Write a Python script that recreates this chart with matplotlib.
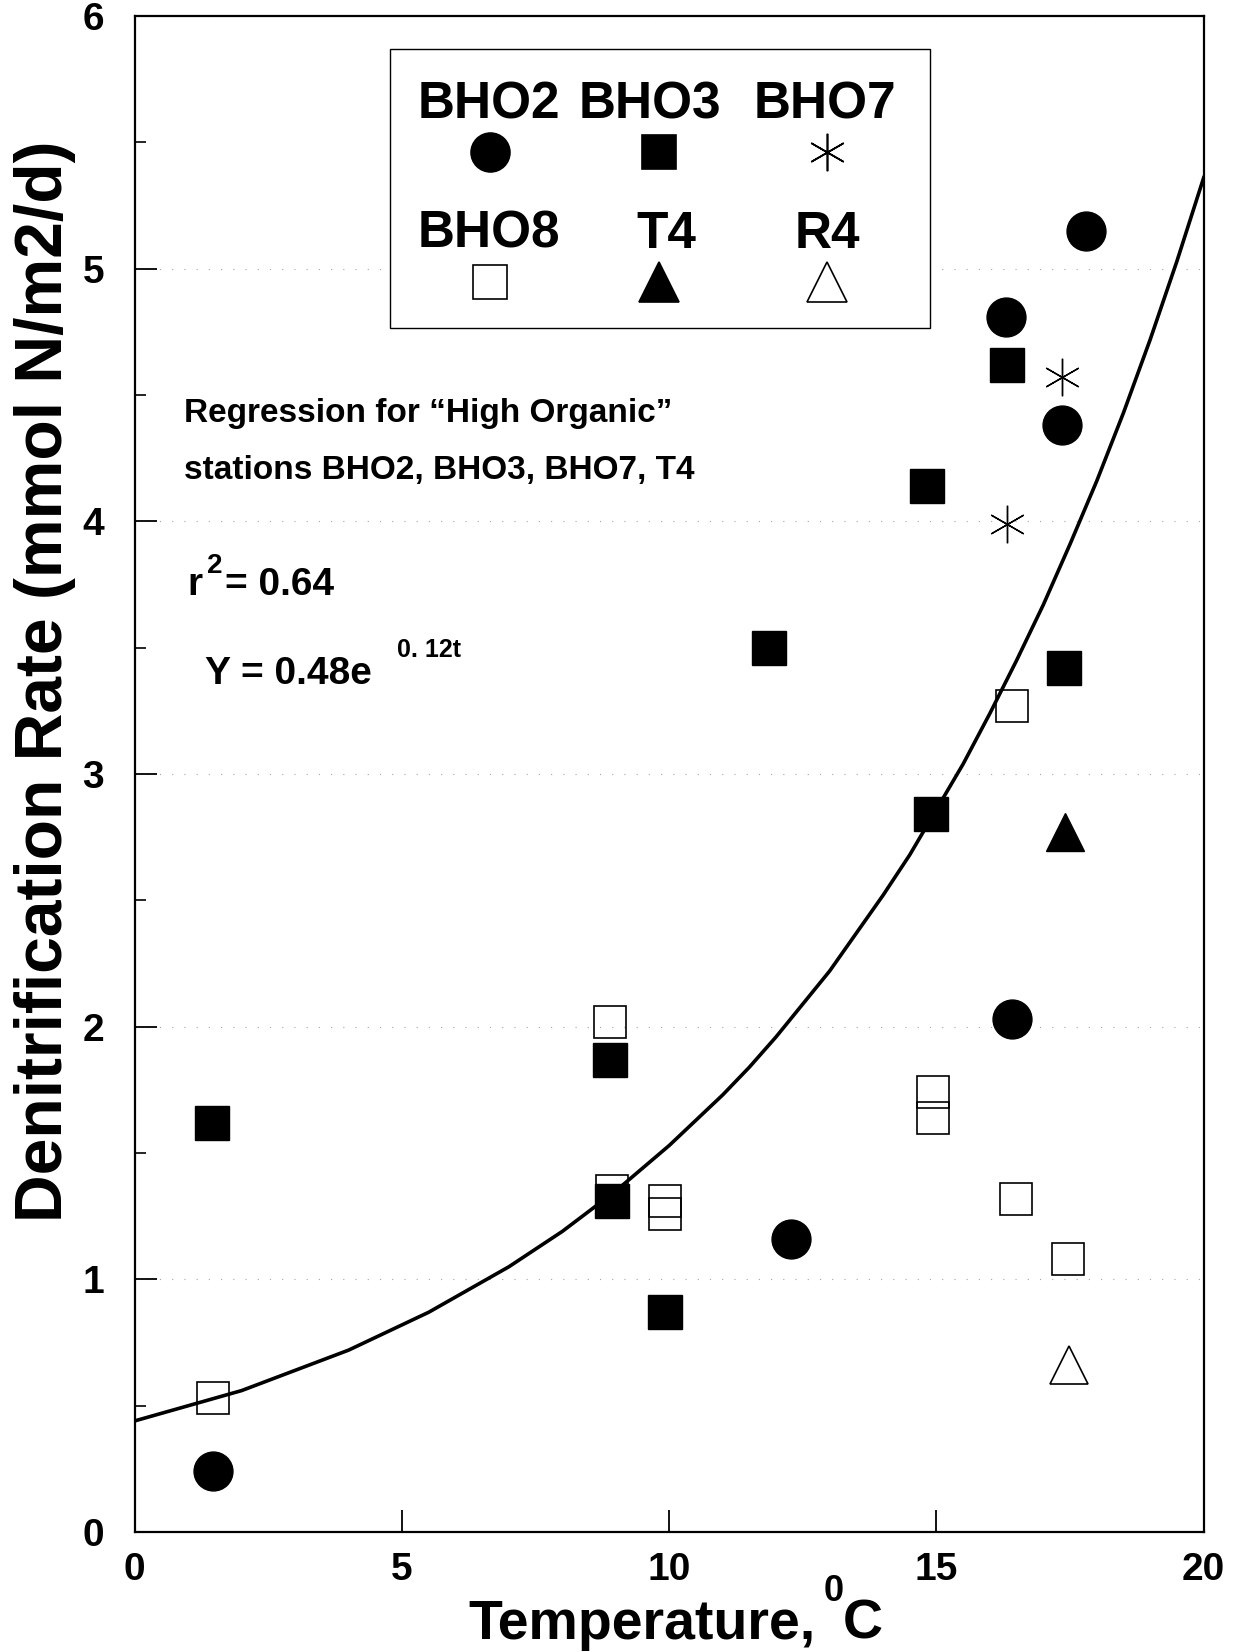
#!/usr/bin/env python3

from matplotlib import pyplot, ticker
from matplotlib.patches import Rectangle

pyplot.rcParams["font.family"] = ["Liberation Sans", "DejaVu Sans"]
pyplot.rcParams["font.weight"] = "bold"

# station data: temperature (C) vs denitrification rate (mmol N/m2/d)
bho2_t = [1.47, 17.80, 16.30, 17.35, 16.42, 12.27]
bho2_y = [0.24, 5.15, 4.81, 4.38, 2.03, 1.16]

bho3_t = [1.44, 8.89, 8.93, 9.93, 11.86, 14.83, 14.89, 16.32, 17.38]
bho3_y = [1.62, 1.87, 1.31, 0.87, 3.50, 4.14, 2.84, 4.62, 3.42]

bho7_t = [17.35, 16.32]
bho7_y = [4.57, 3.99]

bho8_t = [1.47, 8.89, 8.93, 9.93, 9.93, 14.93, 14.93, 16.42, 16.48, 17.46]
bho8_y = [0.53, 2.02, 1.35, 1.31, 1.26, 1.74, 1.64, 3.27, 1.32, 1.08]

t4_t = [17.40]
t4_y = [2.77]

r4_t = [17.48]
r4_y = [0.66]

# regression curve, every half degree
fit_t = [i / 2 for i in range(41)]
fit_y = [0.44, 0.47, 0.50, 0.53, 0.56, 0.60, 0.64, 0.68, 0.72, 0.77,
         0.82, 0.87, 0.93, 0.99, 1.05, 1.12, 1.19, 1.27, 1.35, 1.44,
         1.53, 1.63, 1.73, 1.84, 1.96, 2.09, 2.22, 2.37, 2.52, 2.68,
         2.86, 3.04, 3.24, 3.45, 3.67, 3.91, 4.16, 4.43, 4.72, 5.03, 5.36]

x_ticks = [0, 5, 10, 15, 20]
y_ticks = [0, 1, 2, 3, 4, 5, 6]

figure = pyplot.figure(figsize=(12.4, 16.52), dpi=100)
axis = figure.add_axes([0.1087, 0.0726, 0.862, 0.9177])

# regression line
axis.plot(fit_t, fit_y, color="black", linewidth=2.6, zorder=2,
          solid_joinstyle="round")

# stations
open_style = dict(linestyle="none", markerfacecolor="none",
                  markeredgecolor="black", markeredgewidth=1.2, zorder=3)
filled_style = dict(linestyle="none", color="black", zorder=4)

axis.plot(bho8_t, bho8_y, marker="s", markersize=23, **open_style)
axis.plot(r4_t, r4_y, marker="^", markersize=27, **open_style)
axis.plot(bho7_t, bho7_y, marker=(6, 2, 0), markersize=27, linestyle="none",
          color="black", markeredgewidth=1.0, zorder=3)
axis.plot(bho3_t, bho3_y, marker="s", markersize=24.5, **filled_style)
axis.plot(bho2_t, bho2_y, marker="o", markersize=28, **filled_style)
axis.plot(t4_t, t4_y, marker="^", markersize=27, **filled_style)

# axes
axis.set_xlim(0, 20)
axis.set_ylim(0, 6)
axis.set_xticks(x_ticks)
axis.set_yticks(y_ticks)
axis.yaxis.set_minor_locator(ticker.MultipleLocator(0.5))
axis.tick_params(axis="both", which="major", direction="in", width=1.3,
                 length=16, labelsize=28)
axis.tick_params(axis="y", which="minor", direction="in", width=1.2, length=8)
axis.tick_params(axis="x", pad=14)
axis.tick_params(axis="y", pad=22)
for spine in axis.spines.values():
    spine.set_linewidth(1.6)
axis.yaxis.grid(True, which="major", color="0.65", linewidth=0.8,
                linestyle=(0, (1, 10)))

axis.set_ylabel("Denitrification Rate (mmol N/m2/d)", fontsize=47.5,
                fontweight="bold")
axis.yaxis.set_label_coords(-0.055, 0.561)

figure.text(0.378, 0.008, "Temperature,", fontsize=40, fontweight="bold",
            ha="left", va="baseline")
figure.text(0.664, 0.031, "0", fontsize=26, fontweight="bold",
            ha="left", va="baseline")
figure.text(0.680, 0.008, "C", fontsize=40, fontweight="bold",
            ha="left", va="baseline")

# legend box
axis.add_patch(Rectangle((0.2385, 0.794), 0.5055, 0.184,
                         transform=axis.transAxes, facecolor="white",
                         edgecolor="black", linewidth=1.0, zorder=5))
legend_rows = [
    (0.941, 0.910, [("BHO2", 0.331, "o", "black"),
                    ("BHO3", 0.482, "s", "black"),
                    ("BHO7", 0.6455, (6, 2, 0), "black")]),
    (0.856, 0.8245, [("BHO8", 0.331, "s", "none"),
                     ("T4", 0.497, "^", "black"),
                     ("R4", 0.6475, "^", "none")]),
]
marker_x = [0.332, 0.490, 0.6475]
for text_y, mark_y, entries in legend_rows:
    for (name, text_x, marker, face), mx in zip(entries, marker_x):
        axis.text(text_x, text_y, name, transform=axis.transAxes,
                  fontsize=37, fontweight="bold", ha="center", va="center",
                  zorder=6)
        size = {"o": 28, "s": 24, "^": 29}.get(marker, 27)
        axis.plot([mx], [mark_y], transform=axis.transAxes, marker=marker,
                  markersize=size, markerfacecolor=face,
                  markeredgecolor="black", markeredgewidth=1.2,
                  linestyle="none", clip_on=False, zorder=6)

# regression annotation
axis.text(0.0464, 0.7375, "Regression for \u201cHigh Organic\u201d",
          transform=axis.transAxes, fontsize=24, va="center")
axis.text(0.0464, 0.700, "stations BHO2, BHO3, BHO7, T4",
          transform=axis.transAxes, fontsize=24, va="center")
axis.text(0.0493, 0.6249, "r", transform=axis.transAxes, fontsize=28,
          va="center")
axis.text(0.0675, 0.6375, "2", transform=axis.transAxes, fontsize=20,
          va="center")
axis.text(0.0845, 0.6249, "= 0.64", transform=axis.transAxes, fontsize=28,
          va="center")
axis.text(0.066, 0.5658, "Y = 0.48e", transform=axis.transAxes, fontsize=28,
          va="center")
axis.text(0.2455, 0.5818, "0. 12t", transform=axis.transAxes, fontsize=18,
          va="center")

pyplot.savefig("out.png", dpi=100)
